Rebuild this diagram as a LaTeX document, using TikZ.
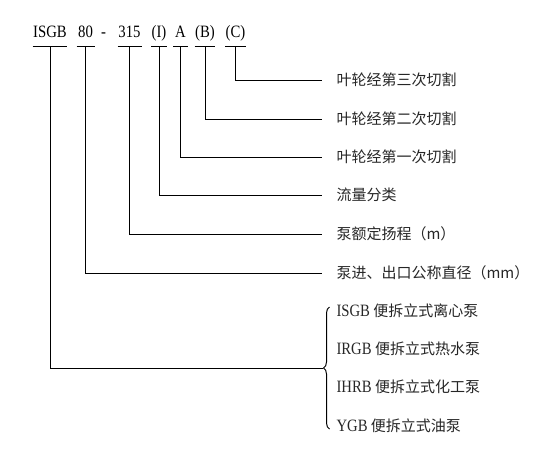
\documentclass[tikz,border=0pt]{standalone}
\usepackage{fontspec}
\setmainfont{Liberation Serif}
\newfontfamily\codefont[FakeStretch=0.85]{Liberation Serif}
\newfontfamily\cjk{Noto Sans CJK SC}
\usepackage{tikz}
\usetikzlibrary{calc}
\usetikzlibrary{positioning}
\usetikzlibrary{decorations.pathreplacing}

\tikzset{
  code/.style={inner sep=0pt,anchor=south,text height=9pt,text depth=6pt,
    font=\codefont\fontsize{13}{15}\selectfont},
  lbl/.style={anchor=west,inner xsep=10.5pt,inner ysep=0pt,text height=9pt,text depth=0.4pt,
    font=\cjk\fontsize{11.25}{13}\selectfont,text=black!85},
  latin/.style={font=\codefont\fontsize{13}{15}\selectfont},
  uline/.style={line width=0.75pt},
}

\begin{document}
\begin{tikzpicture}[x=0.75pt,y=-0.75pt,line width=0.75pt]
      \useasboundingbox (0,0) rectangle (559,450);

      % model code
      \node[code,minimum width=21pt]    (model) at (50,46)    {ISGB};
      \node[code,minimum width=12.75pt] (dn)    at (85.5,46)  {80};
      \node[code]                       (dash)  at (103.5,46) {-};
      \node[code,minimum width=17.25pt] (head)  at (129.5,46) {315};
      \node[code,minimum width=11.25pt] (flow)  at (159,46)   {(I)};
      \node[code,minimum width=10.5pt]  (cutA)  at (180.5,46) {A};
      \node[code,minimum width=12pt]    (cutB)  at (205,46)   {(B)};
      \node[code,minimum width=15pt]    (cutC)  at (235.5,46) {(C)};

      \draw[uline] (model.south west) -- (model.south east);
      \draw[uline] (dn.south west) -- (dn.south east);
      \draw[uline] (head.south west) -- (head.south east);
      \draw[uline] (flow.south west) -- (flow.south east);
      \draw[uline] (cutA.south west) -- (cutA.south east);
      \draw[uline] (cutB.south west) -- (cutB.south east);
      \draw[uline] (cutC.south west) -- (cutC.south east);

      % meanings
      \node[lbl] (lblC)  at (322,80)  {叶轮经第三次切割};
      \node[lbl] (lblB)  at (322,119) {叶轮经第二次切割};
      \node[lbl] (lblA)  at (322,157) {叶轮经第一次切割};
      \node[lbl] (lblI)  at (322,195) {流量分类};
      \node[lbl] (lblH)  at (322,234) {泵额定扬程（m）};
      \node[lbl] (lblDN) at (322,273) {泵进、出口公称直径（mm）};

      \draw (cutC.south) |- (lblC.west);
      \draw (cutB.south) |- (lblB.west);
      \draw (cutA.south) |- (lblA.west);
      \draw (flow.south) |- (lblI.west);
      \draw (head.south) |- (lblH.west);
      \draw (dn.south) |- (lblDN.west);

      % pump types
      \node[lbl] (isgb) at (322,311) {{\codefont\fontsize{13}{15}\selectfont ISGB} 便拆立式离心泵};
      \node[lbl] (irgb) at (322,349) {{\codefont\fontsize{13}{15}\selectfont IRGB} 便拆立式热水泵};
      \node[lbl] (ihrb) at (322,387) {{\codefont\fontsize{13}{15}\selectfont IHRB} 便拆立式化工泵};
      \node[lbl] (ygb)  at (322,426) {{\codefont\fontsize{13}{15}\selectfont YGB} 便拆立式油泵};

      \coordinate (tip) at (323,368);
      \draw (model.south) |- (tip);
      \draw[decorate,decoration={brace,amplitude=4.5pt}] (329.5,429) -- (329.5,307);
    \end{tikzpicture}
\end{document}
